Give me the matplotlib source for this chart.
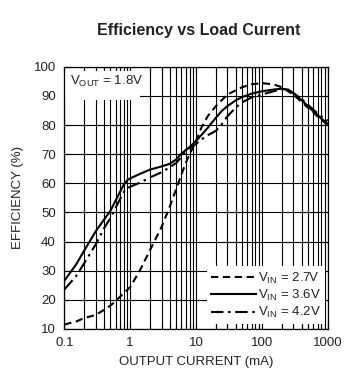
import matplotlib
matplotlib.use('Agg')
import matplotlib.pyplot as plt
from matplotlib.patches import Rectangle
from matplotlib.ticker import LogLocator, FixedLocator, NullFormatter

plt.rcParams['font.family'] = ['Liberation Sans', 'DejaVu Sans']
plt.rcParams['mathtext.fontset'] = 'custom'
plt.rcParams['mathtext.rm'] = 'Liberation Sans'
plt.rcParams['mathtext.it'] = 'Liberation Sans'

# 数据
i_27 = [0.1, 0.15, 0.2, 0.3, 0.4, 0.5, 0.6, 0.7, 0.8, 1.0, 1.4, 2, 3, 4, 5, 6, 7, 8,
        10, 12, 15, 20, 30, 50, 70, 100, 150, 200, 300, 400, 500, 700, 1000]
eff_27 = [11.5, 12.5, 13.7, 14.8, 16.5, 18, 19.5, 21, 22.3, 24.3, 30, 37, 45, 52, 58, 63, 67, 70,
          74.5, 79, 83, 86.5, 90.5, 93, 94, 94.4, 94, 93, 90.5, 88, 86, 83, 80]

i_36 = [0.1, 0.15, 0.2, 0.3, 0.4, 0.5, 0.6, 0.7, 0.8, 0.9, 1.0, 1.5, 2, 3, 4, 5, 6, 8,
        10, 12, 15, 20, 25, 30, 40, 50, 70, 100, 150, 200, 250, 300, 400, 500, 600, 700, 800, 1000]
eff_36 = [26.5, 32, 36.8, 43.5, 47.5, 50.5, 54, 57, 59.5, 61, 61.7, 63.5, 64.7, 65.8, 66.7, 68.2, 70.2, 72.5,
          74.5, 76.5, 79, 82.5, 85, 86.5, 88.5, 89.6, 90.8, 91.6, 92.2, 92.5, 92.2, 91, 88.6, 86.5, 84.8, 83.5, 82.2, 80.5]

i_42 = [0.1, 0.15, 0.2, 0.3, 0.4, 0.5, 0.6, 0.7, 0.8, 0.9, 1.0, 1.5, 2, 3, 4, 5, 6, 7, 8,
        10, 12, 15, 20, 25, 30, 40, 50, 70, 100, 150, 200, 250, 300, 400, 500, 700, 1000]
eff_42 = [23.5, 28, 32.5, 39, 44.5, 48, 51.5, 54.5, 57, 58.3, 58.8, 60.5, 62, 63.8, 65.5, 67, 69, 71, 72.2,
          73.5, 75, 76.5, 78, 80.5, 83, 86, 87.8, 89.5, 90.5, 91.6, 92.3, 92, 91, 89, 87, 84, 81.5]

x_ticks = [0.1, 1, 10, 100, 1000]
x_tick_labels = ['0.1', '1', '10', '100', '1000']
y_ticks = list(range(10, 101, 10))

fig = plt.figure(figsize=(3.57, 3.82), dpi=100)
ax = fig.add_axes([0.180, 0.139, 0.738, 0.686])

ax.set_xscale('log')
ax.set_xlim(0.1, 1000)
ax.set_ylim(10, 100)

# 网格
ax.xaxis.set_major_locator(FixedLocator(x_ticks))
ax.xaxis.set_minor_locator(LogLocator(base=10, subs=range(2, 10), numticks=20))
ax.xaxis.set_minor_formatter(NullFormatter())
ax.set_xticklabels(x_tick_labels)
ax.set_yticks(y_ticks)
ax.grid(True, which='both', axis='x', color='black', linewidth=0.8, zorder=1)
ax.grid(True, which='major', axis='y', color='black', linewidth=0.8, zorder=1)
ax.set_axisbelow(True)
ax.tick_params(which='both', direction='in', top=True, right=True, length=4,
               width=0.8, labelsize=9.5, labelcolor='#222222', pad=6)
for s in ax.spines.values():
    s.set_linewidth(0.9)

ax.plot(i_27, eff_27, color='black', lw=1.5, linestyle=(0, (3.5, 2.2)), label='$\\mathregular{V_{IN}}$ = 2.7V', zorder=3)
ax.plot(i_36, eff_36, color='black', lw=1.5, linestyle='-', label='$\\mathregular{V_{IN}}$ = 3.6V', zorder=3)
ax.plot(i_42, eff_42, color='black', lw=1.5, linestyle=(0, (6, 2.2, 1.2, 2.2)), label='$\\mathregular{V_{IN}}$ = 4.2V', zorder=3)

# VOUT 标签框
ax.add_patch(Rectangle((0.003, 0.875), 0.285, 0.108, transform=ax.transAxes,
                       facecolor='white', edgecolor='none', zorder=2))
ax.text(0.02, 0.945, '$\\mathregular{V_{OUT}}$ = 1.8V', transform=ax.transAxes,
        fontsize=9.5, va='center', ha='left', color='#222222', zorder=4)

leg = ax.legend(loc='lower right', fontsize=9.5, frameon=True, fancybox=False,
                handlelength=3.4, handletextpad=0.15, labelspacing=0.17,
                borderpad=0.3, borderaxespad=0.0, bbox_to_anchor=(0.99, 0.018))
leg.get_frame().set_facecolor('white')
leg.get_frame().set_edgecolor('none')
leg.get_frame().set_alpha(1)
leg.set_zorder(5)
for t in leg.get_texts():
    t.set_color('#222222')

ax.set_xlabel('OUTPUT CURRENT (mA)', fontsize=9.5, color='#222222', labelpad=5)
ax.set_ylabel('EFFICIENCY (%)', fontsize=9.5, color='#222222', labelpad=7)

fig.text(0.556, 0.92, 'Efficiency vs Load Current', ha='center', va='center',
         fontsize=11.5, fontweight='bold', color='#222222')

fig.savefig('out.png', dpi=100)
